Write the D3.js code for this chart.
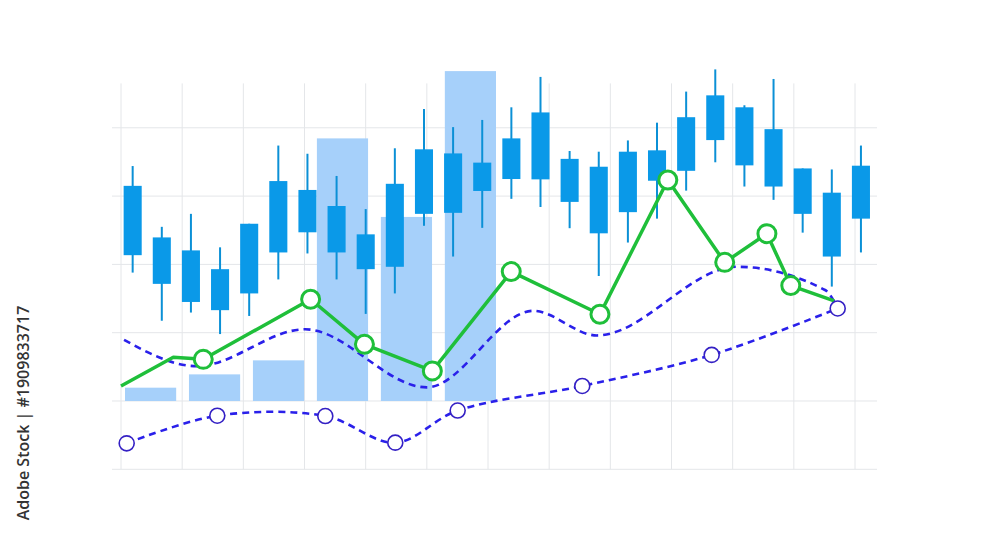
<!DOCTYPE html>
<html lang="en">
<head>
<meta charset="UTF-8">
<title>Candles, bars and lines</title>
<script src="https://cdn.jsdelivr.net/npm/d3@7/dist/d3.min.js"></script>
<style>
  html, body { margin: 0; padding: 0; background: #ffffff; }
  svg { display: block; }
</style>
</head>
<body>
<svg id="mainsvg" width="1000" height="545"></svg>
<script>
// ---- data ----
const gridXTicks = d3.range(13);
const gridYTicks = [-20, 0, 20, 40, 60, 80];

const candleHigh  = [68.8, 51.0, 54.8, 45.0, 51.9, 74.8, 72.4, 65.9, 56.2, 74.0, 85.5, 80.2, 82.3, 86.0, 94.9, 73.2, 73.0, 76.3, 81.5, 90.6, 97.1, 86.6, 94.3, 68.1, 67.8, 74.8];
const candleOpen  = [42.7, 34.3, 29.0, 26.6, 31.5, 43.5, 49.4, 43.5, 38.6, 39.3, 54.8, 55.1, 61.5, 65.0, 64.9, 58.3, 49.1, 55.3, 64.5, 67.4, 76.4, 69.0, 62.8, 54.8, 42.3, 53.4];
const candleClose = [63.0, 47.9, 44.1, 38.6, 51.9, 64.4, 61.8, 57.1, 48.8, 63.6, 73.7, 72.5, 69.8, 76.9, 84.5, 70.9, 68.6, 73.0, 73.4, 83.1, 89.5, 86.0, 79.6, 68.1, 61.0, 68.9];
const candleLow   = [37.6, 23.5, 25.9, 19.6, 24.9, 35.6, 43.2, 35.6, 25.5, 31.5, 51.3, 42.3, 50.7, 59.2, 56.8, 50.6, 36.6, 46.4, 53.4, 61.6, 69.9, 62.8, 58.9, 49.3, 33.5, 43.5];

const barValues = [3.9, 7.8, 11.9, 76.9, 53.9, 96.6];

const greenX = [0.0, 0.855, 1.345, 3.10, 3.98, 5.09, 6.38, 7.83, 8.94, 9.87, 10.56, 10.95, 11.66];
const greenY = [4.4, 12.8, 12.2, 29.8, 16.6, 8.8, 37.9, 25.4, 64.7, 40.6, 49.0, 33.8, 29.3];
const greenMarked = [false, false, true, true, true, true, true, true, true, true, true, true, false];

const upperX = [0.05, 1.24, 3.01, 5.0, 6.74, 7.78, 10.07, 11.51, 11.72];
const upperY = [17.9, 10.2, 21.0, 4.0, 26.4, 19.2, 39.3, 32.5, 27.1];

const lowerX = [0.093, 1.574, 3.34, 4.484, 5.504, 7.541, 9.657, 11.717];
const lowerY = [-12.4, -4.3, -4.4, -12.2, -2.8, 4.4, 13.5, 27.1];

const sideLabel = 'Adobe Stock | #1909833717';

// ---- setup ----
const svg = d3.select('#mainsvg');

const x = d3.scaleLinear().domain([0, 12]).range([121, 855]);
const y = d3.scaleLinear().domain([-20, 93]).range([469.3, 83.4]);
const xCandle = d3.scaleBand().domain(d3.range(candleHigh.length))
    .range([118.1, 875.5]).paddingInner(0.38).paddingOuter(0.19);
const xBar = d3.scaleBand().domain(d3.range(barValues.length))
    .range([125, 496]).paddingInner(0.2).paddingOuter(0);

const gridColor = '#e4e6e9';

//grid
const grid = svg.append('g').attr('class', 'grid');
grid.selectAll('line.v').data(gridXTicks).join('line')
    .attr('class', 'v')
    .attr('x1', d => x(d)).attr('x2', d => x(d))
    .attr('y1', y(93)).attr('y2', y(-20))
    .attr('stroke', gridColor).attr('stroke-width', 1);
grid.selectAll('line.h').data(gridYTicks).join('line')
    .attr('class', 'h')
    .attr('x1', 112).attr('x2', 877)
    .attr('y1', d => y(d)).attr('y2', d => y(d))
    .attr('stroke', gridColor).attr('stroke-width', 1);

//bars
svg.append('g').selectAll('rect').data(barValues).join('rect')
    .attr('x', (d, i) => xBar(i))
    .attr('width', xBar.bandwidth())
    .attr('y', d => y(d))
    .attr('height', d => y(0) - y(d))
    .attr('fill', '#a6d0fa');

//candles
const candles = svg.append('g').selectAll('g').data(candleHigh.map((h, i) => ({
    i, high: h, low: candleLow[i], open: candleOpen[i], close: candleClose[i]
}))).join('g');
candles.append('line')
    .attr('x1', d => xCandle(d.i) + xCandle.bandwidth() / 2)
    .attr('x2', d => xCandle(d.i) + xCandle.bandwidth() / 2)
    .attr('y1', d => y(d.high)).attr('y2', d => y(d.low))
    .attr('stroke', '#0b90d6').attr('stroke-width', 2);
candles.append('rect')
    .attr('x', d => xCandle(d.i))
    .attr('width', xCandle.bandwidth())
    .attr('y', d => y(Math.max(d.open, d.close)))
    .attr('height', d => Math.max(1, Math.abs(y(d.open) - y(d.close))))
    .attr('fill', '#0a99e8');

//dashed lines
const upper = upperX.map((v, i) => [v, upperY[i]]);
const lower = lowerX.map((v, i) => [v, lowerY[i]]);
const lineUpper = d3.line().x(d => x(d[0])).y(d => y(d[1])).curve(d3.curveMonotoneX);
const lineLower = d3.line().x(d => x(d[0])).y(d => y(d[1])).curve(d3.curveCatmullRom.alpha(0.5));
[[upper, lineUpper], [lower, lineLower]].forEach(([pts, gen]) => {
    svg.append('path')
        .attr('d', gen(pts))
        .attr('fill', 'none')
        .attr('stroke', '#2a20ea')
        .attr('stroke-width', 2.6)
        .attr('stroke-dasharray', '7,5');
});

//green line
const green = greenX.map((v, i) => ({x: v, y: greenY[i], m: greenMarked[i]}));
svg.append('path')
    .attr('d', d3.line().x(d => x(d.x)).y(d => y(d.y))(green))
    .attr('fill', 'none')
    .attr('stroke', '#1fbf3a')
    .attr('stroke-width', 3.5)
    .attr('stroke-linejoin', 'round');
svg.append('g').selectAll('circle').data(green.filter(d => d.m)).join('circle')
    .attr('cx', d => x(d.x)).attr('cy', d => y(d.y))
    .attr('r', 9)
    .attr('fill', '#ffffff')
    .attr('stroke', '#1fbf3a')
    .attr('stroke-width', 3);

//markers on the lower dashed line
svg.append('g').selectAll('circle').data(lower).join('circle')
    .attr('cx', d => x(d[0])).attr('cy', d => y(d[1]))
    .attr('r', 7.5)
    .attr('fill', '#ffffff')
    .attr('stroke', '#3420c4')
    .attr('stroke-width', 1.6);

//side label
svg.append('text')
    .attr('transform', 'translate(29, 413) rotate(-90)')
    .attr('text-anchor', 'middle')
    .attr('font-family', 'Open Sans, sans-serif')
    .attr('font-size', 16)
    .attr('font-weight', 600)
    .attr('fill', '#333333')
    .text(sideLabel);
</script>
</body>
</html>
